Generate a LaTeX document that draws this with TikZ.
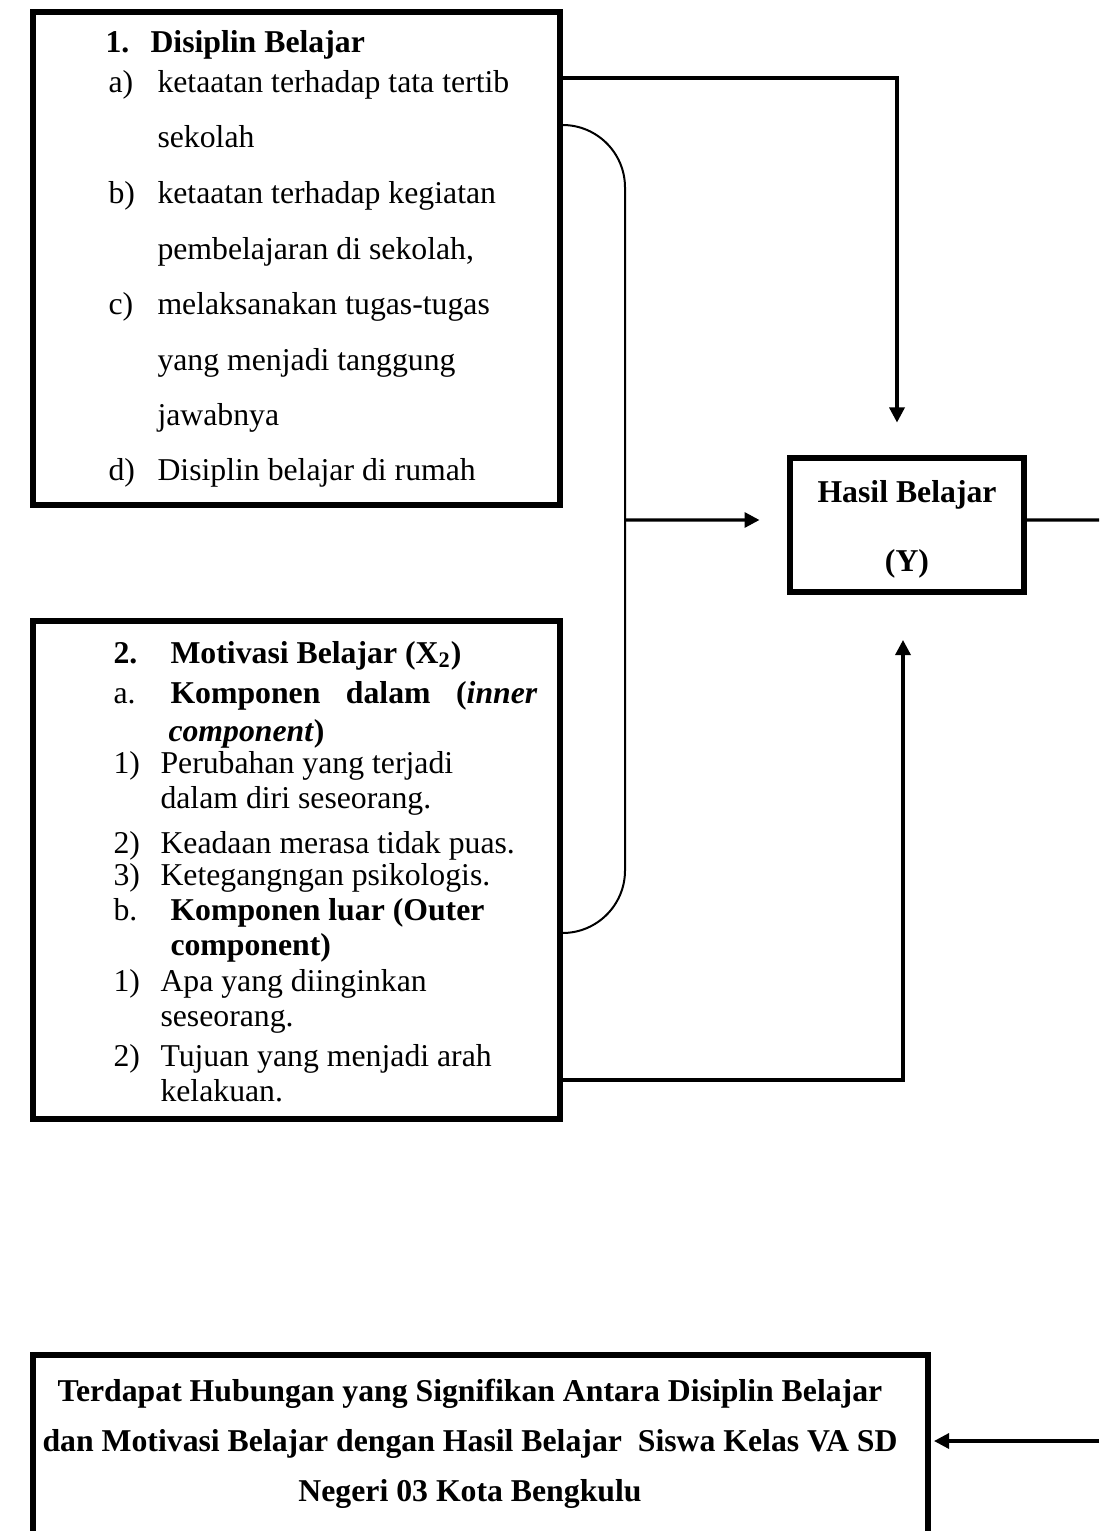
\documentclass[tikz,border=0pt]{standalone}
\usepackage{fontspec}
\setmainfont{Liberation Serif}
\usetikzlibrary{arrows.meta}
\begin{document}
\begin{tikzpicture}[x=0.4pt,y=-0.4pt]
\tikzstyle{frame}= [rectangle,draw,line width=2.4pt,inner sep=0pt]
\tikzstyle{dep}= [-{Triangle[length=6pt,width=6pt]},line width=1.3pt]
\tikzstyle{wire}= [line width=1.3pt]
\tikzstyle{txt}= [anchor=base west,inner sep=0pt,font=\fontsize{12.7}{15}\selectfont]
\tikzstyle{ctxt}= [anchor=base,inner sep=0pt,font=\fontsize{12.7}{15}\selectfont\bfseries]

\clip (0,0) rectangle (1099,1531);

\path
	(296.5,258.5) node[frame,minimum width=210.8pt,minimum height=197.2pt] (disiplin) {}
	(296.5,870) node[frame,minimum width=210.8pt,minimum height=199.2pt] (motivasi) {}
	(907,525) node[frame,minimum width=93.6pt,minimum height=53.6pt] (hasil) {}
	(480.5,1477.5) node[frame,minimum width=358pt,minimum height=98pt] (hub) {}
	(563,78) coordinate (o1)
	(563,1080) coordinate (o2)
	(563,125) coordinate (b1)
	(563,933) coordinate (b2)
	(625,520) coordinate (bk)
	(1099,520) coordinate (e1)
	(1099,1441) coordinate (e2)
;

% box 1
\node[txt] (n1) at (105,53) {\textbf{1.}};
\node[txt] (h1) at (150,53) {\textbf{Disiplin Belajar}};
\foreach \y/\lab [count=\i] in {93/a), 204/b), 315/c), 480/d)}
	\node[txt] (la\i) at (108,\y) {\lab};
\foreach \y/\t [count=\i] in {93/ketaatan terhadap tata tertib, 148/sekolah,
	204/ketaatan terhadap kegiatan, 260/{pembelajaran di sekolah,},
	315/melaksanakan tugas-tugas, 371/yang menjadi tanggung,
	426/jawabnya, 480/Disiplin belajar di rumah}
	\node[txt] (ta\i) at (157,\y) {\t};

% box 2
\node[txt] (n2) at (113,663) {\textbf{2.}};
\node[txt] (h2) at (170,663) {\textbf{Motivasi Belajar (X\textsubscript{2})}};
\foreach \y/\lab [count=\i] in {703/a., 773/1), 853/2), 885/3), 920/b., 991/1), 1066/2)}
	\node[txt] (lb\i) at (113,\y) {\lab};
\node[txt] (ka) at (170,703) {\makebox[146.8pt][s]{\textbf{Komponen dalam (\textit{inner}}}};
\node[txt] (kb) at (168,741) {\textbf{\textit{component})}};
\node[txt] (kc) at (170,920) {\textbf{Komponen luar (Outer}};
\node[txt] (kd) at (170,955) {\textbf{component)}};
\foreach \y/\t [count=\i] in {773/Perubahan yang terjadi, 808/dalam diri seseorang.,
	853/Keadaan merasa tidak puas., 885/Ketegangngan psikologis.,
	991/Apa yang diinginkan, 1026/seseorang.,
	1066/Tujuan yang menjadi arah, 1101/kelakuan.}
	\node[txt] (tb\i) at (160,\y) {\t};

% hasil
\node[ctxt] (hy1) at (907,502) {Hasil Belajar};
\node[ctxt] (hy2) at (907,571) {(Y)};

% kesimpulan
\node[ctxt] (s1) at (470,1401) {Terdapat Hubungan yang Signifikan Antara Disiplin Belajar};
\node[ctxt] (s2) at (470,1451) {dan Motivasi Belajar dengan Hasil Belajar\ \ Siswa Kelas VA SD};
\node[ctxt] (s3) at (470,1501) {Negeri 03 Kota Bengkulu};

\draw[line width=0.8pt,rounded corners=25pt] (b1) -- (b1 -| bk) -- (b2 -| bk) -- (b2);
\draw[dep,shorten >=11pt] (bk) -- ([yshift=2pt]hasil.west);
\draw[dep,shorten >=13pt] (o1) -| ([xshift=-4pt]hasil.north);
\draw[dep,shorten >=18pt] (o2) -| ([xshift=-1.6pt]hasil.south);
\draw[wire] ([yshift=2pt]hasil.east) -- (e1);
\draw[dep,shorten >=1.2pt] (e2) -- (e2 -| hub.east);
\end{tikzpicture}
\end{document}
